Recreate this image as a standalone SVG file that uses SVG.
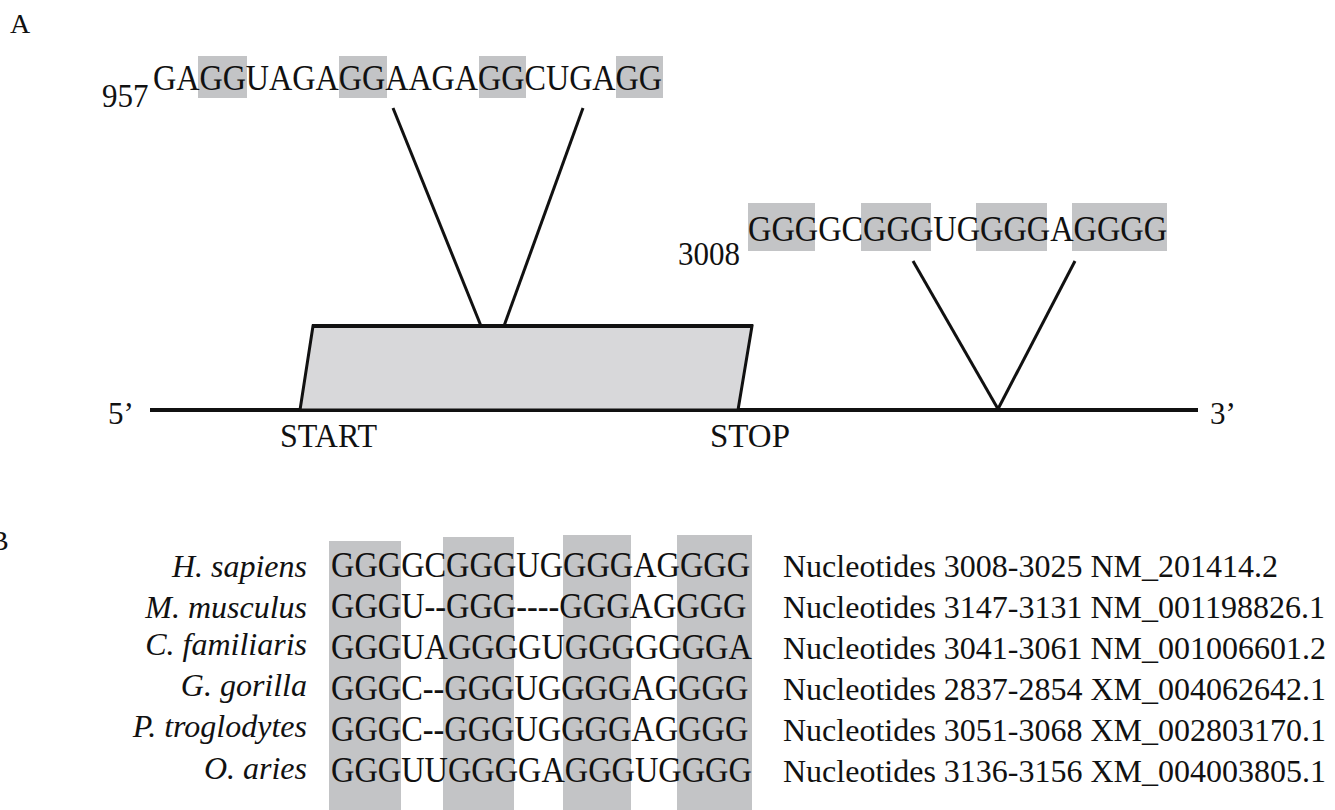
<svg xmlns="http://www.w3.org/2000/svg" width="1335" height="810" viewBox="0 0 1335 810">
<style>
text{font-family:"Liberation Serif","Times New Roman",serif;fill:#111}
.lbl{font-size:28px}
.seq{font-size:32.4px}
.acc{font-size:32px}
.num{font-size:31px}
.sp{font-size:32px;font-style:italic;text-anchor:end}
.hl{fill:#c3c4c6}
.ln{stroke:#111;stroke-width:3;fill:none}
</style>
<rect width="1335" height="810" fill="#fff"/>
<text class="lbl" x="10" y="33">A</text>
<text class="lbl" x="-10" y="550">B</text>
<g id="motif1">
<rect class="hl" x="198" y="56" width="49" height="42"/>
<rect class="hl" x="339" y="56" width="48" height="42"/>
<rect class="hl" x="479" y="56" width="47" height="42"/>
<rect class="hl" x="616" y="56" width="47" height="42"/>
<text class="num" transform="translate(102,107) scale(1,1.1)">957</text>
<text class="seq" transform="translate(153,90) scale(1,1.12)" textLength="509" lengthAdjust="spacingAndGlyphs">GAGGUAGAGGAAGAGGCUGAGG</text>
</g>
<g id="motif2">
<rect class="hl" x="748" y="203" width="67" height="48"/>
<rect class="hl" x="861" y="203" width="70" height="48"/>
<rect class="hl" x="976" y="203" width="71" height="48"/>
<rect class="hl" x="1072" y="203" width="95" height="48"/>
<text class="num" transform="translate(678,265) scale(1,1.1)">3008</text>
<text class="seq" transform="translate(748,241) scale(1,1.12)">GGGGCGGGUGGGGAGGGG</text>
</g>
<g id="mrna">
<line x1="150" y1="410" x2="1198" y2="410" stroke="#111" stroke-width="4"/>
<text class="num" x="108" y="424">5’</text>
<text class="num" x="1210" y="424">3’</text>
</g>
<g id="cds">
<polygon points="313,326 752,326 738,410 300,410" fill="#d8d8da" stroke="#111" stroke-width="3"/>
<line x1="312" y1="326" x2="753" y2="326" stroke="#111" stroke-width="4"/>
<text class="num" transform="translate(280,447) scale(1,1.1)" textLength="97" lengthAdjust="spacingAndGlyphs">START</text>
<text class="num" transform="translate(710,447) scale(1,1.1)" textLength="80" lengthAdjust="spacingAndGlyphs">STOP</text>
</g>
<g id="connectors">
<line class="ln" x1="393" y1="108" x2="481" y2="326"/>
<line class="ln" x1="583" y1="108" x2="504" y2="326"/>
<line class="ln" x1="913" y1="261" x2="998" y2="409"/>
<line class="ln" x1="1075" y1="261" x2="998" y2="409"/>
</g>
<g id="alignment">
<rect class="hl" x="329" y="541" width="72" height="269"/>
<rect class="hl" x="443" y="537" width="71" height="273"/>
<rect class="hl" x="563" y="535" width="68" height="275"/>
<rect class="hl" x="677" y="535" width="75" height="275"/>
<text class="sp" x="307" y="577">H. sapiens</text>
<text class="sp" x="307" y="618">M. musculus</text>
<text class="sp" x="307" y="655">C. familiaris</text>
<text class="sp" x="307" y="696">G. gorilla</text>
<text class="sp" x="307" y="737">P. troglodytes</text>
<text class="sp" x="307" y="779">O. aries</text>
<text class="seq" transform="translate(331,577) scale(1,1.12)">GGGGCGGGUGGGGAGGGG</text>
<text class="seq" transform="translate(331,618) scale(1,1.12)">GGGU--GGG----GGGAGGGG</text>
<text class="seq" transform="translate(331,659) scale(1,1.12)">GGGUAGGGGUGGGGGGGA</text>
<text class="seq" transform="translate(331,700) scale(1,1.12)">GGGC--GGGUGGGGAGGGG</text>
<text class="seq" transform="translate(331,741) scale(1,1.12)">GGGC--GGGUGGGGAGGGG</text>
<text class="seq" transform="translate(331,782) scale(1,1.12)">GGGUUGGGGAGGGUGGGG</text>
</g>
<g id="accessions">
<text class="acc" x="783" y="577">Nucleotides 3008-3025 NM_201414.2</text>
<text class="acc" x="783" y="618">Nucleotides 3147-3131 NM_001198826.1</text>
<text class="acc" x="783" y="659">Nucleotides 3041-3061 NM_001006601.2</text>
<text class="acc" x="783" y="700">Nucleotides 2837-2854 XM_004062642.1</text>
<text class="acc" x="783" y="741">Nucleotides 3051-3068 XM_002803170.1</text>
<text class="acc" x="783" y="782">Nucleotides 3136-3156 XM_004003805.1</text>
</g>
</svg>
